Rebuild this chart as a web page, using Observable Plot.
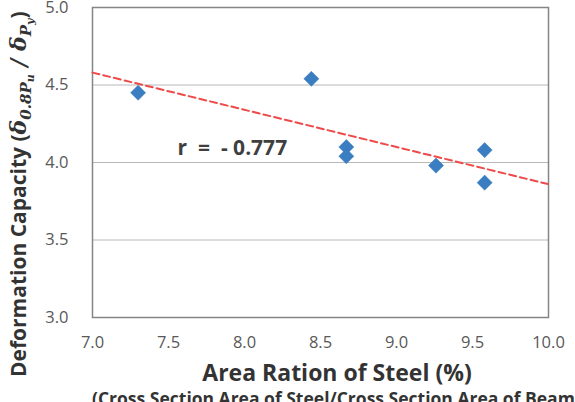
<!DOCTYPE html>
<html>
<head>
<meta charset="utf-8">
<script src="https://cdn.jsdelivr.net/npm/d3@7"></script>
<script src="https://cdn.jsdelivr.net/npm/@observablehq/plot@0.6"></script>
<style>
  html, body { margin: 0; padding: 0; background: #fff; overflow: hidden; }
  svg text { font-family: "Open Sans", sans-serif; }
</style>
</head>
<body>
<div id="chart"></div>
<script>
// Data
const steelRatio = [7.30, 8.44, 8.67, 8.67, 9.26, 9.58, 9.58];
const deformation = [4.45, 4.54, 4.10, 4.04, 3.98, 4.08, 3.87];
const trendX = [7.0, 10.0];
const trendY = [4.58, 3.86];
const xTicks = [7.0, 7.5, 8.0, 8.5, 9.0, 9.5, 10.0];
const yTicks = [3.0, 3.5, 4.0, 4.5, 5.0];
const annotText = ["r  =  - 0.777"];
const annotX = [7.92];
const annotY = [4.095];

const points = steelRatio.map((x, i) => ({x, y: deformation[i]}));
const trend = trendX.map((x, i) => ({x, y: trendY[i]}));
const annot = annotText.map((t, i) => ({t, x: annotX[i], y: annotY[i]}));

const W = 575, H = 402;
const chart = Plot.plot({
  width: W,
  height: H,
  marginLeft: 92,
  marginRight: 27,
  marginTop: 7,
  marginBottom: 85,
  style: {fontFamily: "Open Sans, sans-serif", background: "#fff"},
  x: {domain: [7, 10]},
  y: {domain: [3, 5]},
  marks: [
    Plot.gridY(yTicks, {stroke: "#b8b8b8", strokeOpacity: 1, strokeWidth: 1}),
    Plot.frame({stroke: "#858585", strokeWidth: 1.5}),
    Plot.axisX(xTicks, {tickSize: 0, tickPadding: 19, tickFormat: d => d.toFixed(1), fontSize: 16.5, fill: "#595959", label: null}),
    Plot.axisY(yTicks, {tickSize: 0, tickPadding: 24, tickFormat: d => d.toFixed(1), fontSize: 16.5, fill: "#595959", label: null}),
    Plot.line(trend, {x: "x", y: "y", stroke: "#ee4a4a", strokeWidth: 2, strokeDasharray: "7,4"}),
    Plot.dot(points, {x: "x", y: "y", symbol: "diamond2", r: 6.8, fill: "#3a7dc0", stroke: "#3a7dc0", strokeWidth: 0.5}),
    Plot.text(annot, {x: "x", y: "y", text: "t", fontSize: 21, fontWeight: "bold", fill: "#3f3f3f"})
  ]
});
document.getElementById("chart").appendChild(chart);

const svg = d3.select(chart);
// X axis title and subtitle
svg.append("text")
  .attr("x", 337).attr("y", 381)
  .attr("text-anchor", "middle")
  .attr("font-size", 23).attr("font-weight", "bold").attr("fill", "#333")
  .text("Area Ration of Steel (%)");
svg.append("text")
  .attr("x", 92).attr("y", 405)
  .attr("text-anchor", "start")
  .attr("font-size", 17.5).attr("font-weight", "bold").attr("fill", "#333")
  .text("(Cross Section Area of Steel/Cross Section Area of Beam)");

// Y axis title with subscripts
const serif = "DejaVu Serif, serif";
const yt = svg.append("text")
  .attr("transform", "translate(26,377) rotate(-90)")
  .attr("text-anchor", "start")
  .attr("font-size", 21).attr("font-weight", "bold").attr("fill", "#333");
yt.append("tspan").text("Deformation Capacity (");
yt.append("tspan").attr("font-style", "italic").attr("font-family", serif).attr("font-size", 22).text("δ");
yt.append("tspan").attr("font-size", 15).attr("dy", 5).attr("font-style", "italic").attr("font-family", serif).text("0.8P");
yt.append("tspan").attr("font-size", 11).attr("dy", 3).attr("font-style", "italic").attr("font-family", serif).text("u");
yt.append("tspan").attr("dy", -8).attr("font-family", serif).attr("font-style", "italic").attr("font-size", 22).text(" / δ");
yt.append("tspan").attr("font-size", 15).attr("dy", 5).attr("font-style", "italic").attr("font-family", serif).text("P");
yt.append("tspan").attr("font-size", 11).attr("dy", 3).attr("font-style", "italic").attr("font-family", serif).text("y");
yt.append("tspan").attr("dy", -8).text(")");
</script>
</body>
</html>
